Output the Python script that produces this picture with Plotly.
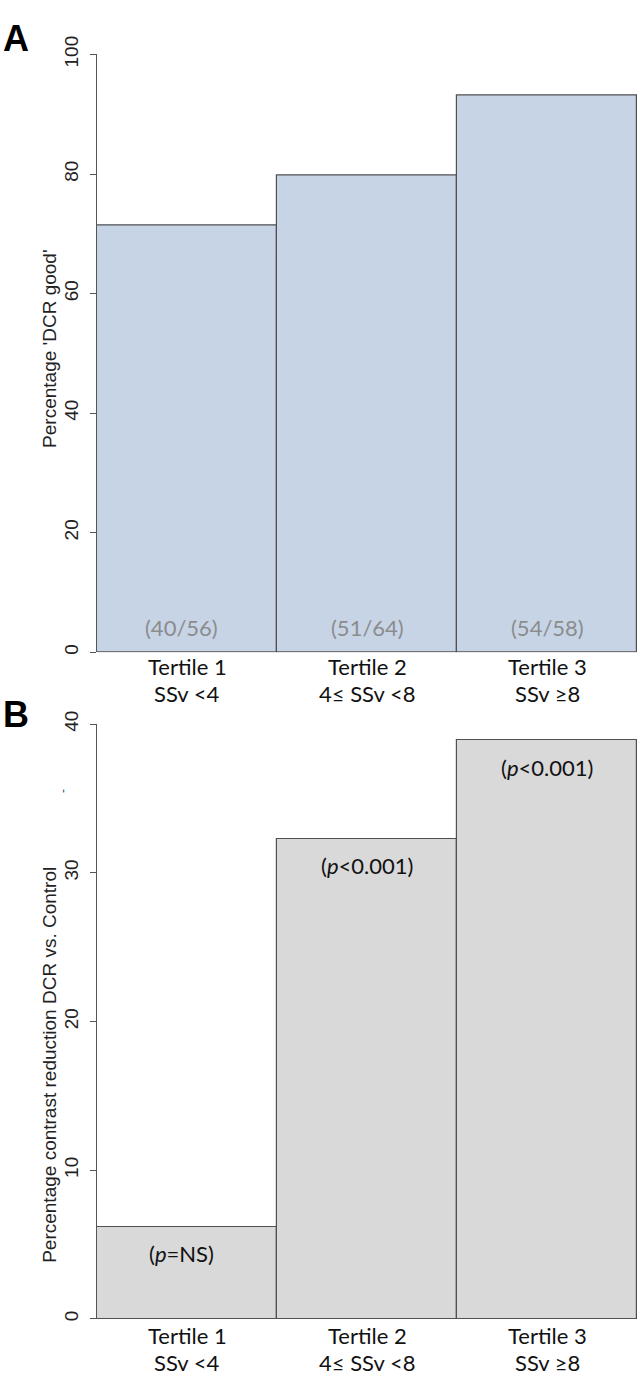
import plotly.graph_objects as go

# ---- data ----
categories = ["Tertile 1", "Tertile 2", "Tertile 3"]
ssv_ranges = ["SSv <4", "4≤ SSv <8", "SSv ≥8"]
pct_dcr_good = [71.4, 79.7, 93.1]
count_labels = ["(40/56)", "(51/64)", "(54/58)"]
pct_contrast_reduction = [6.2, 32.3, 38.9]
p_labels = ["(<i>p</i>=NS)", "(<i>p</i>&lt;0.001)", "(<i>p</i>&lt;0.001)"]
yticks_a = [0, 20, 40, 60, 80, 100]
yticks_b = [0, 10, 20, 30, 40]

W, H = 644, 1379


def px(x):
    return x / W


def py(y):
    return 1 - y / H


xs = list(range(len(categories)))

fig = go.Figure()
fig.add_trace(go.Bar(
    x=xs, y=pct_dcr_good, xaxis="x", yaxis="y",
    marker=dict(color="#c6d4e6", line=dict(color="#505050", width=1.2)),
    width=1.0, showlegend=False, hoverinfo="skip",
))
fig.add_trace(go.Bar(
    x=xs, y=pct_contrast_reduction, xaxis="x2", yaxis="y2",
    marker=dict(color="#d9d9d9", line=dict(color="#505050", width=1.2)),
    width=1.0, showlegend=False, hoverinfo="skip",
))

tickfont = dict(family="Liberation Sans, Arial", size=19, color="#222222")
common_y = dict(
    showgrid=False, zeroline=False, showline=True, linecolor="#555555", linewidth=1,
    ticks="outside", ticklen=6, tickcolor="#555555", tickangle=-90,
    tickfont=tickfont, tickmode="array", ticklabelstandoff=4,
)
common_x = dict(
    showgrid=False, zeroline=False, showline=False, showticklabels=False,
    ticks="", range=[-0.5, 2.5],
)

fig.update_layout(
    width=W, height=H, margin=dict(l=0, r=0, t=0, b=0),
    paper_bgcolor="white", plot_bgcolor="white", bargap=0,
    xaxis=dict(domain=[px(97), px(637)], anchor="y", **common_x),
    yaxis=dict(domain=[py(643), py(36)], range=[0, 100], anchor="x",
               tickvals=yticks_a, ticktext=[str(v) for v in yticks_a], **common_y),
    xaxis2=dict(domain=[px(97), px(637)], anchor="y2", **common_x),
    yaxis2=dict(domain=[py(1320), py(716)], range=[0, 40], anchor="x2",
                tickvals=yticks_b, ticktext=[str(v) for v in yticks_b], **common_y),
)

ann = []
catfont = dict(family="Lato, Open Sans, sans-serif", size=22, color="#111111")
for i, (c, r) in enumerate(zip(categories, ssv_ranges)):
    for xref, y1, y2 in (("x", 658, 685), ("x2", 1337, 1364)):
        ann.append(dict(x=i, y=py(y1), xref=xref, yref="paper", text=c, showarrow=False,
                        font=catfont, xanchor="center", yanchor="middle"))
        ann.append(dict(x=i, y=py(y2), xref=xref, yref="paper", text=r, showarrow=False,
                        font=catfont, xanchor="center", yanchor="middle"))

for i, t in enumerate(count_labels):
    ann.append(dict(x=i, y=py(618), xref="x", yref="paper", text=t, showarrow=False,
                    xshift=-6 if i == 0 else 0,
                    font=dict(family="Lato, Open Sans, sans-serif", size=22, color="#8c8c8c"),
                    xanchor="center", yanchor="middle"))

for i, (t, v) in enumerate(zip(p_labels, pct_contrast_reduction)):
    ann.append(dict(x=i, y=v, xref="x2", yref="y2", text=t, showarrow=False, yshift=-27,
                    xshift=-6 if i == 0 else 0,
                    font=dict(family="Lato, Open Sans, sans-serif", size=22, color="#111111"),
                    xanchor="center", yanchor="middle"))

labfont = dict(family="Liberation Sans, Arial", size=19, color="#222222")
ann.append(dict(x=px(50), y=py(335), xref="paper", yref="paper", text="Percentage 'DCR good'",
                textangle=-90, showarrow=False, font=labfont, xanchor="center", yanchor="middle"))
ann.append(dict(x=px(50), y=py(1062), xref="paper", yref="paper",
                text="Percentage contrast reduction DCR vs. Control",
                textangle=-90, showarrow=False, font=labfont, xanchor="center", yanchor="middle"))
ann.append(dict(x=px(63), y=py(784), xref="paper", yref="paper", text="-",
                textangle=-90, showarrow=False, font=dict(family="Liberation Sans", size=12, color="#334455"),
                xanchor="center", yanchor="middle"))

letterfont = dict(family="Liberation Sans, Arial", size=36, color="#000000")
ann.append(dict(x=px(16), y=py(20), xref="paper", yref="paper", text="<b>A</b>", showarrow=False,
                font=letterfont, xanchor="center", yanchor="middle"))
ann.append(dict(x=px(16), y=py(706), xref="paper", yref="paper", text="<b>B</b>", showarrow=False,
                font=letterfont, xanchor="center", yanchor="middle"))

fig.update_layout(annotations=ann)
fig.write_html("out.html")
